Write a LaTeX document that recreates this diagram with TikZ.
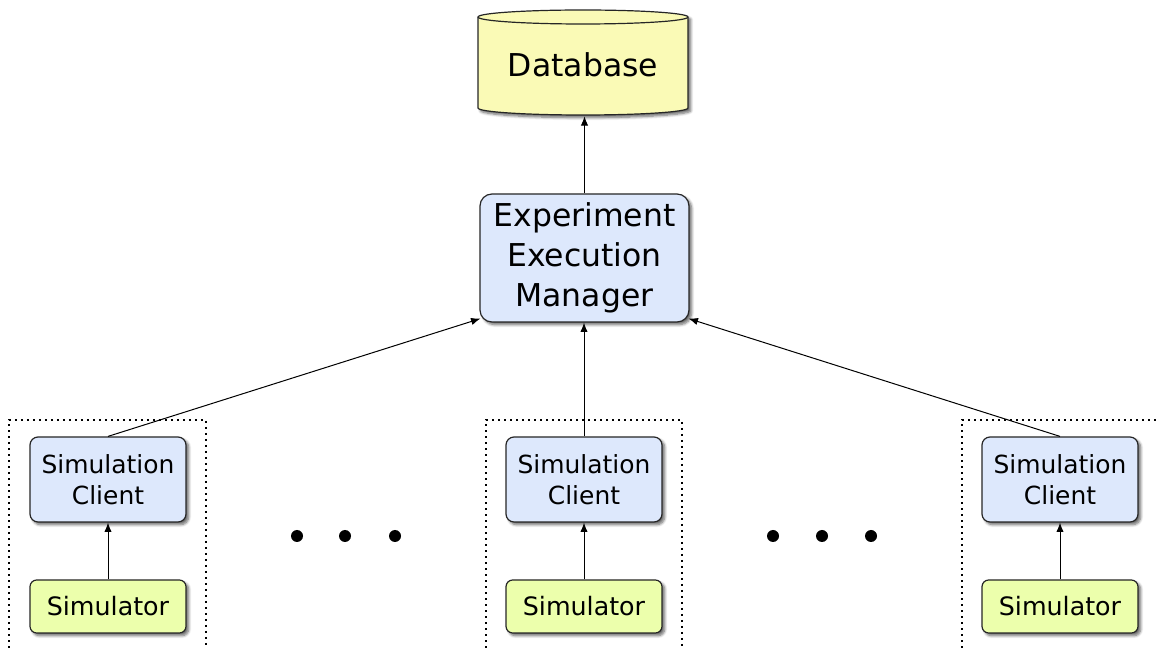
\documentclass[tikz,border=0pt]{standalone}
\usepackage{fontspec}
\setmainfont{DejaVu Sans}
\usetikzlibrary{arrows.meta,shadows.blur}
\definecolor{clientblue}{RGB}{221,232,252}
\definecolor{dbyellow}{RGB}{250,250,182}
\definecolor{simgreen}{RGB}{236,255,172}
\tikzset{
  shade/.style={blur shadow={shadow xshift=2pt, shadow yshift=-2pt, shadow blur steps=6, shadow blur radius=2pt, shadow opacity=60}},
  boxline/.style={draw=black!85, line width=0.9pt},
  managerbox/.style={boxline, shade, fill=clientblue, rounded corners=9pt, minimum width=156.75pt, minimum height=96pt, align=center, font=\fontsize{23.6}{30}\selectfont, inner sep=0pt},
  clientbox/.style={boxline, shade, fill=clientblue, rounded corners=6pt, minimum width=117pt, minimum height=63.75pt, align=center, font=\fontsize{18.7}{23}\selectfont, inner sep=0pt},
  simbox/.style={boxline, shade, fill=simgreen, rounded corners=5pt, minimum width=117pt, minimum height=39.75pt, font=\fontsize{19}{23}\selectfont, inner sep=0pt},
  dblabel/.style={minimum width=157.5pt, minimum height=76.5pt, font=\fontsize{23.6}{30}\selectfont, inner sep=0pt},
  link/.style={draw=black, line width=0.75pt, -{Latex[length=7pt,width=5.5pt]}},
  group/.style={draw=black, line width=1pt, dash pattern=on 1.2pt off 3.3pt},
  ellipsis/.style={fill=black}
}
\begin{document}
\begin{tikzpicture}[x=0.75pt,y=0.75pt]
\useasboundingbox (0,0) rectangle (1158,-648);

% grouping frames around each client/simulator pair (open at the bottom)
\begin{scope}
  \clip (0,0) rectangle (1158,-648);
  \draw[group] (9,-660) -- (9,-420) -- (206,-420) -- (206,-660);
  \draw[group] (486,-660) -- (486,-420) -- (682,-420) -- (682,-660);
  \draw[group] (962,-660) -- (962,-420) -- (1170,-420) -- (1170,-660);
\end{scope}

% database cylinder
\path[boxline, fill=dbyellow, shade]
  (478,-17) -- (478,-108)
  arc[start angle=180, end angle=360, x radius=105, y radius=7]
  -- (688,-17)
  arc[start angle=0, end angle=180, x radius=105, y radius=7] -- cycle;
\draw[boxline] (478,-17) arc[start angle=180, end angle=360, x radius=105, y radius=7];
\node[dblabel] (db) at (583,-65) {Database};

% manager
\node[managerbox] (eem) at (584.5,-258) {Experiment\\Execution\\Manager};

% clients and simulators
\node[clientbox] (c1) at (108,-479.5) {Simulation\\Client};
\node[clientbox] (c2) at (584,-479.5) {Simulation\\Client};
\node[clientbox] (c3) at (1060,-479.5) {Simulation\\Client};
\node[simbox] (s1) at (108,-606.5) {Simulator};
\node[simbox] (s2) at (584,-606.5) {Simulator};
\node[simbox] (s3) at (1060,-606.5) {Simulator};

% ellipsis dots
\fill[ellipsis] (297,-536) circle[radius=4.5pt];
\fill[ellipsis] (345,-536) circle[radius=4.5pt];
\fill[ellipsis] (395,-536) circle[radius=4.5pt];
\fill[ellipsis] (773,-536) circle[radius=4.5pt];
\fill[ellipsis] (822,-536) circle[radius=4.5pt];
\fill[ellipsis] (871,-536) circle[radius=4.5pt];

% connectors
\draw[link] (eem.north) -- (db.south -| eem.north);
\draw[link] (c1.north) -- ([xshift=0.75pt,yshift=3pt]eem.south west);
\draw[link] (c2.north) -- (eem.south -| c2.north);
\draw[link] (c3.north) -- ([xshift=-0.75pt,yshift=3pt]eem.south east);
\draw[link] (s1.north) -- (c1.south);
\draw[link] (s2.north) -- (c2.south);
\draw[link] (s3.north) -- (c3.south);
\end{tikzpicture}
\end{document}
